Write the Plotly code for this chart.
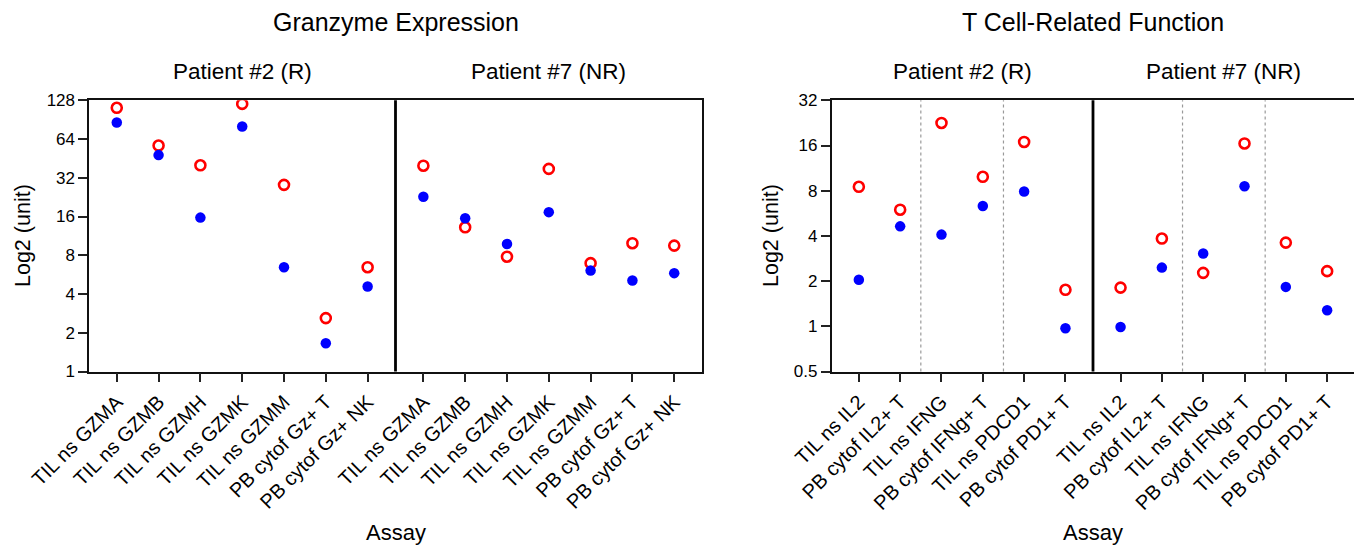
import math
import plotly.graph_objects as go

# ---------------- data ----------------
gran_assays = ["TIL ns GZMA", "TIL ns GZMB", "TIL ns GZMH", "TIL ns GZMK",
               "TIL ns GZMM", "PB cytof Gz+ T", "PB cytof Gz+ NK"]
gran_p2_red = [112, 57, 40, 120, 28.2, 2.6, 6.46]
gran_p2_blue = [86, 48, 15.7, 80, 6.46, 1.66, 4.57]
gran_p7_red = [39.7, 13.2, 7.8, 37.5, 6.95, 9.93, 9.51]
gran_p7_blue = [22.8, 15.5, 9.8, 17.3, 6.08, 5.09, 5.81]
gran_yticks = [1, 2, 4, 8, 16, 32, 64, 128]

tcell_assays = ["TIL ns IL2", "PB cytof IL2+ T", "TIL ns IFNG",
                "PB cytof IFNg+ T", "TIL ns PDCD1", "PB cytof PD1+ T"]
tcell_p2_red = [8.49, 5.98, 22.6, 9.9, 16.9, 1.75]
tcell_p2_blue = [2.04, 4.63, 4.08, 6.32, 7.9, 0.97]
tcell_p7_red = [1.81, 3.84, 2.27, 16.5, 3.61, 2.33]
tcell_p7_blue = [0.99, 2.46, 3.05, 8.57, 1.83, 1.28]
tcell_yticks = [0.5, 1, 2, 4, 8, 16, 32]

panel_titles = ["Granzyme Expression", "T Cell-Related Function"]
patient_labels = ["Patient #2 (R)", "Patient #7 (NR)"]

# ---------------- layout helpers ----------------
W, H = 1362, 546
OFF = 8  # page body margin offset
FONT = "Arial, Liberation Sans, sans-serif"
GAP = 1 / 3
PAD = 0.657

def positions(n):
    left = [float(i) for i in range(n)]
    right = [n + GAP + i for i in range(n)]
    return left, right

def fmt(v):
    return ("%g" % v)

def fx(px):
    return (px - OFF) / W

def fy(py):
    return (H - (py - OFF)) / H

fig = go.Figure()

panels = [
    dict(assays=gran_assays, red=(gran_p2_red, gran_p7_red), blue=(gran_p2_blue, gran_p7_blue),
         yticks=gran_yticks, px=(89.3, 701.7), xa="x", ya="y", dotted=False),
    dict(assays=tcell_assays, red=(tcell_p2_red, tcell_p7_red), blue=(tcell_p2_blue, tcell_p7_blue),
         yticks=tcell_yticks, px=(831.7, 1354.3), xa="x2", ya="y2", dotted=True),
]

y_top_px, y_bot_px = 100.3, 371.5
ydom = [fy(y_bot_px), fy(y_top_px)]

annotations = []
shapes = []

for k, p in enumerate(panels):
    n = len(p["assays"])
    pl, pr = positions(n)
    xs = pl + pr
    red = p["red"][0] + p["red"][1]
    blue = p["blue"][0] + p["blue"][1]
    fig.add_trace(go.Scatter(x=xs, y=red, mode="markers", name="open",
                             marker=dict(symbol="circle-open", size=10, color="#ff0000",
                                         line=dict(width=2.6, color="#ff0000")),
                             xaxis=p["xa"], yaxis=p["ya"], showlegend=False))
    fig.add_trace(go.Scatter(x=xs, y=blue, mode="markers", name="filled",
                             marker=dict(symbol="circle", size=10.5, color="#0000ff"),
                             xaxis=p["xa"], yaxis=p["ya"], showlegend=False))

    xmin, xmax = -PAD, pr[-1] + PAD
    xd = [fx(p["px"][0]), fx(p["px"][1])]
    axis_common = dict(showline=True, linewidth=1.8, linecolor="#111", mirror=True,
                       showgrid=False, zeroline=False, ticks="outside", tickwidth=1.6,
                       tickcolor="#222", ticklen=9, automargin=False)
    xname = "xaxis" if k == 0 else "xaxis2"
    yname = "yaxis" if k == 0 else "yaxis2"
    fig.update_layout(**{
        xname: dict(domain=xd, range=[xmin, xmax], tickvals=xs,
                    ticktext=p["assays"] + p["assays"], tickangle=-45,
                    anchor=p["ya"], tickfont=dict(family=FONT, size=20, color="black"),
                    **axis_common),
        yname: dict(domain=ydom, type="log",
                    range=[math.log10(p["yticks"][0]), math.log10(p["yticks"][-1])],
                    tickvals=p["yticks"], ticktext=[fmt(v) for v in p["yticks"]],
                    anchor=p["xa"], tickfont=dict(family=FONT, size=17, color="black"),
                    **axis_common),
    })

    # thick divider between patients
    div = (pl[-1] + pr[0]) / 2
    yref_dom = ("y" if k == 0 else "y2") + " domain"
    shapes.append(dict(type="line", xref=p["xa"], yref=yref_dom, x0=div, x1=div, y0=0, y1=1,
                       line=dict(color="black", width=2.8)))
    if p["dotted"]:
        for grp in (pl, pr):
            for j in (1, 3):
                xv = (grp[j] + grp[j + 1]) / 2
                shapes.append(dict(type="line", xref=p["xa"], yref=yref_dom, x0=xv, x1=xv,
                                   y0=0, y1=1, line=dict(color="#999999", width=1.2, dash="dot")))

    # text
    cx_plot = (p["px"][0] + p["px"][1]) / 2
    div_px = p["px"][0] + (div - xmin) / (xmax - xmin) * (p["px"][1] - p["px"][0])
    annotations.append(dict(text=panel_titles[k], x=fx(cx_plot), y=fy(22), xref="paper",
                            yref="paper", showarrow=False, xanchor="center", yanchor="middle",
                            font=dict(family=FONT, size=25, color="black")))
    for lab, cx in zip(patient_labels, [(p["px"][0] + div_px) / 2, (div_px + p["px"][1]) / 2]):
        annotations.append(dict(text=lab, x=fx(cx), y=fy(71), xref="paper", yref="paper",
                                showarrow=False, xanchor="center", yanchor="middle",
                                font=dict(family=FONT, size=22.5, color="black")))
    annotations.append(dict(text="Assay", x=fx(cx_plot), y=fy(532), xref="paper",
                            yref="paper", showarrow=False, xanchor="center", yanchor="middle",
                            font=dict(family=FONT, size=22, color="black")))
    ytx = 23 if k == 0 else 771
    annotations.append(dict(text="Log2 (unit)", x=fx(ytx), y=fy(236), xref="paper",
                            yref="paper", showarrow=False, xanchor="center", yanchor="middle",
                            textangle=-90, font=dict(family=FONT, size=21.5, color="black")))

fig.update_layout(width=W, height=H, margin=dict(l=0, r=0, t=0, b=0, autoexpand=False),
                  plot_bgcolor="white", paper_bgcolor="white",
                  annotations=annotations, shapes=shapes, showlegend=False)

fig.write_html("out.html")
